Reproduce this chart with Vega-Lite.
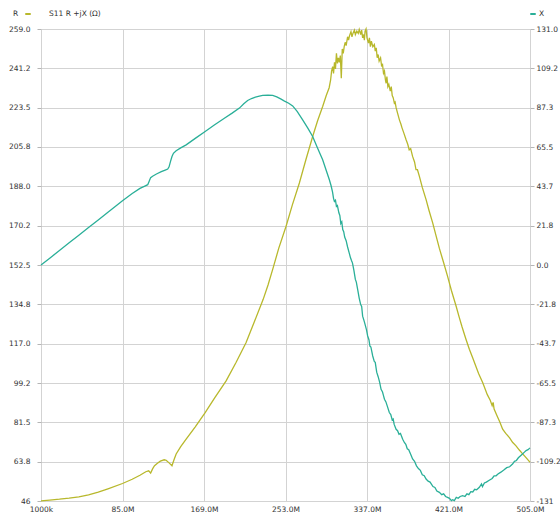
{
  "$schema": "https://vega.github.io/schema/vega-lite/v6.json",
  "width": 489,
  "height": 472,
  "autosize": {"type": "none"},
  "padding": {"left": 41, "top": 29, "right": 30, "bottom": 14},
  "background": "white",
  "datasets": {
    "rdata": [
      {"f":1,"R":46.1},{"f":10,"R":46.4},{"f":20,"R":46.8},{"f":30,"R":47.3},{"f":40,"R":47.9},{"f":50,"R":48.8},{"f":60,"R":50},{"f":70,"R":51.5},{"f":85,"R":53.9},{"f":95,"R":55.8},{"f":103,"R":57.6},{"f":109,"R":59.2},{"f":112,"R":59.6},{"f":114,"R":58.6},{"f":116,"R":60.5},{"f":118,"R":61.9},{"f":121,"R":63},{"f":124,"R":64},{"f":128,"R":64.6},{"f":130,"R":64.4},{"f":133,"R":63.2},{"f":136,"R":61.9},{"f":138,"R":64.5},{"f":140.3,"R":67.2},{"f":145,"R":70.5},{"f":150.6,"R":73.9},{"f":160,"R":79.5},{"f":170.2,"R":85.9},{"f":180,"R":92.5},{"f":191.8,"R":100.2},{"f":202,"R":108.5},{"f":212.4,"R":117.5},{"f":221,"R":127},{"f":230,"R":137},{"f":235,"R":143.5},{"f":239.8,"R":150.5},{"f":246,"R":160},{"f":253.6,"R":170},{"f":260,"R":179.5},{"f":267.3,"R":189.5},{"f":274,"R":200},{"f":281,"R":210.5},{"f":286,"R":217.5},{"f":291.3,"R":224},{"f":295,"R":229},{"f":298,"R":232.5},{"f":299.5,"R":236},{"f":300.5,"R":240},{"f":301.6,"R":242},{"f":302.5,"R":239},{"f":303.5,"R":244},{"f":304.5,"R":241},{"f":305.5,"R":248},{"f":306.5,"R":243.5},{"f":307.5,"R":246},{"f":308.5,"R":244},{"f":309.5,"R":247},{"f":310.5,"R":236.8},{"f":311.5,"R":250},{"f":312.5,"R":248},{"f":313.5,"R":251},{"f":314.5,"R":253},{"f":315.5,"R":251.5},{"f":317,"R":255.5},{"f":318,"R":254},{"f":319,"R":256},{"f":320.5,"R":257.8},{"f":321.5,"R":255.5},{"f":322.5,"R":257},{"f":324,"R":258.5},{"f":325,"R":256.5},{"f":326.5,"R":258},{"f":328,"R":257},{"f":329,"R":258.8},{"f":330.5,"R":256.5},{"f":331.5,"R":258.5},{"f":332.5,"R":255},{"f":333.5,"R":256.5},{"f":334.3,"R":254},{"f":335,"R":258},{"f":336,"R":259},{"f":337,"R":255},{"f":338.5,"R":252.6},{"f":339.5,"R":255},{"f":340.5,"R":251},{"f":341.5,"R":253.5},{"f":343,"R":251},{"f":344.6,"R":252},{"f":345.5,"R":249},{"f":346.5,"R":250.5},{"f":347.5,"R":246},{"f":348.5,"R":247.5},{"f":349.5,"R":244.5},{"f":351,"R":246},{"f":352,"R":242.5},{"f":353,"R":243},{"f":354,"R":239},{"f":355,"R":240},{"f":356,"R":236},{"f":356.7,"R":234.5},{"f":357.5,"R":237.5},{"f":358.5,"R":233},{"f":359.5,"R":234},{"f":361,"R":231},{"f":362,"R":233},{"f":363,"R":229},{"f":364,"R":228},{"f":365.2,"R":225.5},{"f":366,"R":226},{"f":367,"R":223.5},{"f":368.5,"R":221},{"f":370.4,"R":218},{"f":372,"R":216},{"f":373,"R":214.5},{"f":375,"R":212},{"f":377.3,"R":209},{"f":379,"R":207},{"f":380.5,"R":204.5},{"f":382,"R":205},{"f":384,"R":201.5},{"f":386,"R":199},{"f":387.5,"R":195.5},{"f":389,"R":195.5},{"f":391,"R":192.5},{"f":394,"R":187.5},{"f":397.9,"R":182},{"f":401,"R":177},{"f":404.7,"R":171.5},{"f":408,"R":166},{"f":411.6,"R":160},{"f":416,"R":153.5},{"f":420,"R":147.5},{"f":424,"R":141},{"f":428.8,"R":134},{"f":432,"R":129},{"f":435,"R":124.5},{"f":439,"R":119},{"f":442.5,"R":114.5},{"f":446,"R":110.5},{"f":449,"R":107},{"f":452,"R":103.5},{"f":456.2,"R":99.5},{"f":461,"R":94},{"f":464,"R":91.5},{"f":466,"R":89},{"f":467,"R":90.5},{"f":468,"R":87.5},{"f":471,"R":84.5},{"f":474,"R":81.5},{"f":476.8,"R":78.4},{"f":480,"R":76.5},{"f":484,"R":74.5},{"f":487,"R":72.5},{"f":490.6,"R":70.9},{"f":494,"R":69},{"f":497,"R":67.5},{"f":500,"R":66},{"f":503.6,"R":64.2},{"f":505,"R":63.5}
    ],
    "xdata": [
      {"f":1,"X":0},{"f":10,"X":3.8},{"f":20,"X":8},{"f":30,"X":12.3},{"f":40,"X":16.5},{"f":50,"X":20.8},{"f":60,"X":25},{"f":70,"X":29.3},{"f":85,"X":35.7},{"f":95,"X":39.7},{"f":103,"X":42.5},{"f":108,"X":43.8},{"f":111,"X":44.6},{"f":112.5,"X":46.5},{"f":114,"X":48.5},{"f":116,"X":49.3},{"f":120,"X":50.5},{"f":125,"X":51.8},{"f":129,"X":52.7},{"f":131.6,"X":53.3},{"f":133,"X":54.5},{"f":134.5,"X":57.5},{"f":136,"X":60.2},{"f":137.5,"X":62},{"f":140.3,"X":63.4},{"f":145,"X":65},{"f":150.6,"X":66.7},{"f":160,"X":70.3},{"f":170.2,"X":74.1},{"f":180,"X":77.8},{"f":190,"X":81.5},{"f":198,"X":84.3},{"f":205.5,"X":87.1},{"f":210,"X":89.5},{"f":214,"X":91.3},{"f":218,"X":92.4},{"f":222,"X":93.2},{"f":226,"X":93.7},{"f":229.5,"X":94.1},{"f":235,"X":94.3},{"f":239.8,"X":94.1},{"f":244,"X":93.3},{"f":248,"X":92.2},{"f":252,"X":91},{"f":256.3,"X":89.8},{"f":260.4,"X":88.3},{"f":265,"X":85.3},{"f":270.7,"X":80.6},{"f":276,"X":76},{"f":281,"X":71.3},{"f":286,"X":65},{"f":291.3,"X":58.4},{"f":295,"X":52.5},{"f":298.2,"X":47.3},{"f":300,"X":44},{"f":301.5,"X":40.5},{"f":302.5,"X":37},{"f":303.4,"X":35.3},{"f":304.5,"X":36},{"f":305.5,"X":32.5},{"f":306.5,"X":33},{"f":308,"X":29},{"f":309,"X":27.5},{"f":310,"X":23},{"f":311,"X":24},{"f":312,"X":19.7},{"f":313,"X":18.5},{"f":314,"X":15.5},{"f":315.5,"X":13.5},{"f":317,"X":10},{"f":318.5,"X":7},{"f":320,"X":4},{"f":321,"X":2.5},{"f":322,"X":1.2},{"f":323.5,"X":-3},{"f":325,"X":-8},{"f":326,"X":-9.5},{"f":327.5,"X":-14},{"f":329,"X":-18.5},{"f":330.5,"X":-22},{"f":331.5,"X":-23},{"f":332.5,"X":-28.4},{"f":334,"X":-31},{"f":335,"X":-33},{"f":336.5,"X":-36},{"f":337.7,"X":-39.4},{"f":339,"X":-41.5},{"f":340,"X":-45},{"f":341,"X":-45.5},{"f":342.9,"X":-50.5},{"f":344.5,"X":-53.5},{"f":345.5,"X":-54},{"f":347,"X":-59.5},{"f":348.5,"X":-62},{"f":350,"X":-65},{"f":351.5,"X":-69},{"f":353,"X":-70.5},{"f":354,"X":-72.5},{"f":355,"X":-74.5},{"f":356.5,"X":-76},{"f":358,"X":-78.5},{"f":360,"X":-81.9},{"f":361.5,"X":-83},{"f":363,"X":-86},{"f":364,"X":-85.5},{"f":365,"X":-88.5},{"f":367,"X":-91.2},{"f":368.5,"X":-92},{"f":370,"X":-94},{"f":371.5,"X":-93.5},{"f":373.8,"X":-96.7},{"f":375.5,"X":-98.5},{"f":377,"X":-99.5},{"f":378.5,"X":-102},{"f":380,"X":-102.5},{"f":382,"X":-105},{"f":384,"X":-107.7},{"f":386,"X":-109},{"f":388,"X":-111.5},{"f":390,"X":-113},{"f":392,"X":-114},{"f":394,"X":-116.5},{"f":396,"X":-117},{"f":397.9,"X":-118.8},{"f":400,"X":-120},{"f":402,"X":-120.5},{"f":405,"X":-123},{"f":407,"X":-123.5},{"f":409,"X":-125.5},{"f":411.6,"X":-126.2},{"f":414,"X":-127.5},{"f":416,"X":-127},{"f":418,"X":-128.5},{"f":420,"X":-129},{"f":422,"X":-129.5},{"f":424,"X":-130.8},{"f":425.3,"X":-130.3},{"f":427,"X":-130.8},{"f":429,"X":-129},{"f":431,"X":-129.5},{"f":433,"X":-128.5},{"f":435.6,"X":-128},{"f":438,"X":-128.5},{"f":440,"X":-127},{"f":442,"X":-127.5},{"f":444,"X":-125.8},{"f":446,"X":-126},{"f":448,"X":-124.5},{"f":450,"X":-124.8},{"f":452.8,"X":-123.4},{"f":455,"X":-121.5},{"f":456,"X":-123},{"f":458,"X":-121},{"f":460,"X":-120.5},{"f":463,"X":-119.5},{"f":466,"X":-118.5},{"f":468,"X":-117},{"f":470,"X":-117},{"f":472,"X":-116},{"f":475,"X":-115},{"f":478,"X":-113.8},{"f":481,"X":-112.5},{"f":484,"X":-112},{"f":487,"X":-110.5},{"f":489,"X":-109},{"f":491,"X":-108.5},{"f":493,"X":-107},{"f":495,"X":-106},{"f":497,"X":-105},{"f":499,"X":-104},{"f":501,"X":-103},{"f":503,"X":-102.5},{"f":505,"X":-101.5}
    ]
  },
  "layer": [
    {
      "data": {"name": "rdata"},
      "mark": {"type": "line", "strokeWidth": 1.3},
      "encoding": {
        "x": {"field": "f", "type": "quantitative", "scale": {"domain": [1, 505], "nice": false, "zero": false},
          "axis": {"title": null, "values": [1, 85, 169, 253, 337, 421, 505], "labelExpr": "datum.value == 1 ? '1000k' : format(datum.value, '.1f') + 'M'", "ticks": false, "tickSize": 0, "labelPadding": 4, "labelFlush": false, "labelDx": -3, "grid": true}},
        "y": {"field": "R", "type": "quantitative", "scale": {"domain": [46, 259], "nice": false, "zero": false},
          "axis": {"title": null, "orient": "left", "values": [46, 63.8, 81.5, 99.2, 117, 134.8, 152.5, 170.2, 188, 205.8, 223.5, 241.2, 259], "labelExpr": "datum.value == 46 ? '46' : format(datum.value, '.1f')", "tickSize": 4, "labelPadding": 7, "grid": true}},
        "color": {"datum": "R", "scale": {"range": ["#b8b82c"]},
          "legend": {"orient": "none", "legendX": -28, "legendY": -19, "title": "R", "titleOrient": "left", "titlePadding": 5, "titleFont": "DejaVu Sans", "titleFontSize": 7.5, "titleFontWeight": "normal", "titleColor": "#333333", "titleBaseline": "middle", "symbolType": "stroke", "symbolSize": 30, "symbolStrokeWidth": 2, "labelExpr": "'S11 R +jX (Ω)'", "labelOffset": 17, "labelLimit": 200}}
      }
    },
    {
      "data": {"name": "xdata"},
      "mark": {"type": "line", "strokeWidth": 1.3},
      "encoding": {
        "x": {"field": "f", "type": "quantitative", "scale": {"domain": [1, 505], "nice": false, "zero": false},
          "axis": {"title": null, "values": [1, 85, 169, 253, 337, 421, 505], "labelExpr": "datum.value == 1 ? '1000k' : format(datum.value, '.1f') + 'M'", "ticks": false, "tickSize": 0, "labelPadding": 4, "labelFlush": false, "labelDx": -3, "grid": true}},
        "y": {"field": "X", "type": "quantitative", "scale": {"domain": [-131, 131], "nice": false, "zero": false},
          "axis": {"title": null, "orient": "right", "values": [-131, -109.2, -87.3, -65.5, -43.7, -21.8, 0, 21.8, 43.7, 65.5, 87.3, 109.2, 131], "labelExpr": "datum.value == -131 ? '-131' : (datum.value < 0 ? '-' + format(-datum.value, '.1f') : format(datum.value, '.1f'))", "tickSize": 4, "labelPadding": 2, "grid": false}},
        "color": {"datum": "X", "scale": {"range": ["#2aaf98"]},
          "legend": {"orient": "none", "legendX": 488, "legendY": -19, "title": null, "symbolType": "stroke", "symbolSize": 30, "symbolStrokeWidth": 2, "labelOffset": 2}}
      }
    }
  ],
  "resolve": {"scale": {"y": "independent", "color": "independent"}, "legend": {"color": "independent"}},
  "config": {
    "view": {"stroke": null},
    "axis": {"labelFont": "DejaVu Sans", "labelFontSize": 7.5, "labelColor": "#333333", "gridColor": "#d3d3d3", "gridWidth": 1, "tickColor": "#b5b5b5", "domain": false},
    "legend": {"labelFont": "DejaVu Sans", "labelFontSize": 7.5, "labelColor": "#333333", "padding": 0}
  }
}
